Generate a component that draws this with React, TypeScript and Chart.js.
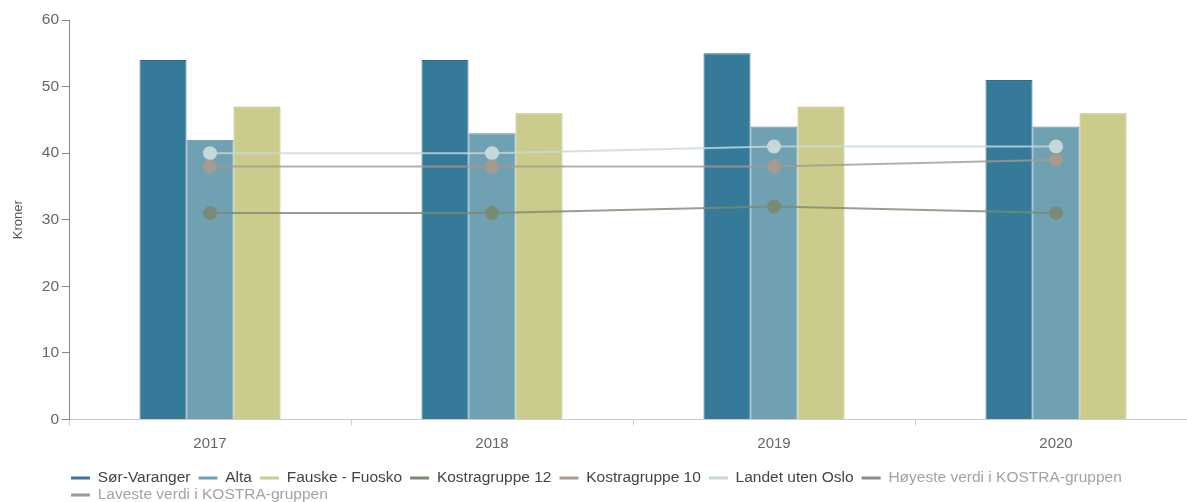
import React, { useEffect, useRef } from "react";
import { Chart, registerables } from "chart.js";

Chart.register(...registerables);

const categories = ["2017", "2018", "2019", "2020"];
const sorVaranger = [54, 54, 55, 51];
const alta = [42, 43, 44, 44];
const fauske = [47, 46, 47, 46];
const kostra12 = [31, 31, 32, 31];
const kostra10 = [38, 38, 38, 39];
const landetUtenOslo = [40, 40, 41, 41];
const hoyeste: (number | null)[] = [null, null, null, null];
const laveste: (number | null)[] = [null, null, null, null];
const yTicks = [0, 10, 20, 30, 40, 50, 60];

const FONT = "'Liberation Sans', Arial, sans-serif";
const W = 1205;
const H = 502;
const LEGEND_ROW1_COUNT = 7;
const LEGEND_ROW_GAP = 17;

const legendPlacer = {
  id: "legendPlacer",
  afterLayout(chart: any) {
    const lg = chart.legend;
    if (!lg) return;
    lg.left = 63;
    lg.right = W;
    lg.top = 462.25;
    lg.bottom = H;
    lg.width = lg.right - lg.left;
    lg.height = lg.bottom - lg.top;
    if (!lg.__patched) {
      lg.__patched = true;
      const orig = lg._draw;
      lg._draw = function () {
        const all = this.legendItems;
        const top = this.top;
        this.legendItems = all.slice(0, LEGEND_ROW1_COUNT);
        orig.call(this);
        this.legendItems = all.slice(LEGEND_ROW1_COUNT);
        this.top = top + LEGEND_ROW_GAP;
        orig.call(this);
        this.top = top;
        this.legendItems = all;
      };
    }
  },
};

export default function App() {
  const ref = useRef<HTMLCanvasElement>(null);

  useEffect(() => {
    document.body.style.overflow = "hidden";
    const ctx = ref.current!.getContext("2d")!;
    const lineDs = (label: string, data: (number | null)[], line: string, point: string) => ({
      type: "line" as const,
      label,
      data,
      borderColor: line,
      backgroundColor: point,
      pointBackgroundColor: point,
      pointBorderColor: point,
      pointRadius: 6,
      pointHoverRadius: 6,
      borderWidth: 2,
      fill: false,
      tension: 0,
      order: 0,
      legendColor: point,
    });
    const barDs = (label: string, data: number[], fill: string, border: string) => ({
      type: "bar" as const,
      label,
      data,
      backgroundColor: fill,
      borderColor: border,
      borderWidth: 1,
      categoryPercentage: 0.5,
      barPercentage: 1.0,
      order: 1,
      legendColor: fill,
    });
    const datasets: any[] = [
      barDs("Sør-Varanger", sorVaranger, "#367a99", "#2f6d89"),
      barDs("Alta", alta, "#6fa1b3", "#5f8fa1"),
      barDs("Fauske - Fuosko", fauske, "#cbcb8c", "#b3b374"),
      lineDs("Kostragruppe 12", kostra12, "rgba(122,138,114,0.8)", "#7b8a74"),
      lineDs("Kostragruppe 10", kostra10, "rgba(165,154,143,0.8)", "#a59b90"),
      lineDs("Landet uten Oslo", landetUtenOslo, "rgba(200,218,218,0.8)", "#c6d9d8"),
      lineDs("Høyeste verdi i KOSTRA-gruppen", hoyeste, "#8a8a8a", "#8a8a8a"),
      lineDs("Laveste verdi i KOSTRA-gruppen", laveste, "#9a9a9a", "#9a9a9a"),
    ];

    const chart = new Chart(ctx, {
      type: "bar",
      data: { labels: categories, datasets },
      plugins: [legendPlacer],
      options: {
        animation: false,
        responsive: false,
        maintainAspectRatio: false,
        layout: { padding: { top: 20, right: 0, left: 0, bottom: -16.5 } },
        plugins: {
          title: { display: false },
          tooltip: { enabled: false },
          legend: {
            position: "bottom",
            align: "start",
            labels: {
              boxWidth: 19,
              boxHeight: 3,
              padding: 8,
              color: "#444",
              font: { family: FONT, size: 15.5 },
              generateLabels: (c: any) =>
                c.data.datasets.map((ds: any, i: number) => ({
                  text: ds.label,
                  fillStyle: ds.legendColor,
                  strokeStyle: ds.legendColor,
                  lineWidth: 0,
                  hidden: false,
                  datasetIndex: i,
                  fontColor: i >= 6 ? "#a3a3a3" : "#444",
                })),
            },
          },
        },
        scales: {
          x: {
            grid: {
              display: true,
              drawOnChartArea: false,
              offset: true,
              tickLength: 6,
              color: "#cccccc",
            },
            border: { color: "#cccccc" },
            ticks: { color: "#666", font: { family: FONT, size: 15 }, padding: 9 },
          },
          y: {
            min: 0,
            max: 60,
            afterBuildTicks: (s: any) => {
              s.ticks = yTicks.map((v) => ({ value: v }));
            },
            afterFit: (s: any) => {
              s.width = 69;
            },
            grid: {
              display: true,
              drawOnChartArea: false,
              tickLength: 7,
              color: "#888888",
            },
            border: { color: "#888888" },
            ticks: { color: "#666", font: { family: FONT, size: 15.5 }, padding: 3 },
            title: {
              display: true,
              text: "Kroner",
              color: "#555",
              font: { family: FONT, size: 13 },
              padding: { top: 11, bottom: 0 },
            },
          },
        },
      },
    });
    return () => chart.destroy();
  }, []);

  return (
    <div style={{ position: "fixed", left: 0, top: 0, width: W, height: H }}>
      <canvas ref={ref} width={W} height={H} style={{ display: "block" }} />
    </div>
  );
}
